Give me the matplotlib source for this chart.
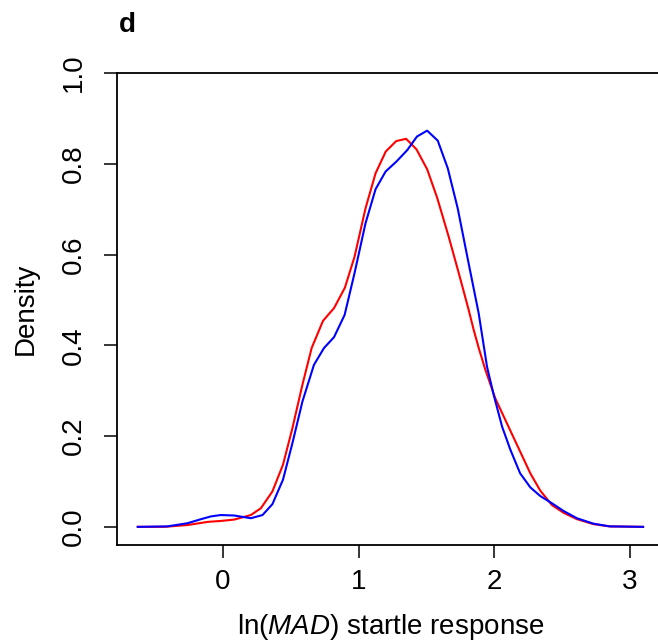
import matplotlib
matplotlib.use('Agg')
import matplotlib.pyplot as plt

plt.rcParams['font.family'] = ['Liberation Sans', 'DejaVu Sans']
plt.rcParams['mathtext.fontset'] = 'custom'
plt.rcParams['mathtext.rm'] = 'Liberation Sans'
plt.rcParams['mathtext.it'] = 'Liberation Sans:italic'

# density curves
red_x = [-0.627, -0.43, -0.26, -0.11, -0.015, 0.083, 0.206, 0.28, 0.365, 0.443,
         0.512, 0.586, 0.654, 0.738, 0.819, 0.899, 0.97, 1.051, 1.125, 1.20,
         1.277, 1.35, 1.426, 1.505, 1.58, 1.664, 1.738, 1.811, 1.848, 1.885,
         1.934, 2.007, 2.093, 2.179, 2.265, 2.338, 2.424, 2.51, 2.608, 2.73,
         2.85, 3.096]
red_y = [0.0, 0.0, 0.004, 0.011, 0.013, 0.016, 0.026, 0.041, 0.078, 0.137,
         0.217, 0.313, 0.394, 0.454, 0.482, 0.527, 0.595, 0.702, 0.779, 0.827,
         0.850, 0.855, 0.832, 0.788, 0.724, 0.639, 0.559, 0.478, 0.434, 0.394,
         0.346, 0.283, 0.228, 0.173, 0.118, 0.080, 0.048, 0.031, 0.017, 0.006,
         0.001, 0.0]

blue_x = [-0.627, -0.41, -0.26, -0.16, -0.088, -0.015, 0.083, 0.206, 0.292, 0.365,
          0.443, 0.512, 0.586, 0.671, 0.745, 0.819, 0.897, 0.97, 1.051, 1.125,
          1.199, 1.279, 1.358, 1.43, 1.505, 1.583, 1.657, 1.73, 1.811, 1.885,
          1.946, 1.995, 2.057, 2.118, 2.19, 2.265, 2.338, 2.424, 2.51, 2.608,
          2.73, 2.85, 3.096]
blue_y = [0.0, 0.001, 0.008, 0.017, 0.023, 0.026, 0.025, 0.019, 0.026, 0.05,
          0.104, 0.184, 0.276, 0.357, 0.394, 0.418, 0.467, 0.559, 0.669, 0.744,
          0.783, 0.805, 0.830, 0.86, 0.873, 0.851, 0.79, 0.702, 0.58, 0.47,
          0.353, 0.291, 0.221, 0.17, 0.118, 0.087, 0.068, 0.052, 0.035, 0.019,
          0.007, 0.001, 0.0]

x_ticks = [0, 1, 2, 3]
y_ticks = [0.0, 0.2, 0.4, 0.6, 0.8, 1.0]

fig = plt.figure(figsize=(6.58, 6.41), dpi=100)
ax = fig.add_axes([117 / 658, 1 - 545 / 641, (664 - 117) / 658, (545 - 73) / 641])

ax.plot(red_x, red_y, color='red', lw=1.5)
ax.plot(blue_x, blue_y, color='blue', lw=1.5)

ax.set_xlim(-0.78, 3.25)
ax.set_ylim(-0.04, 1.0)
ax.set_xticks(x_ticks)
ax.set_xticklabels([str(t) for t in x_ticks])
ax.set_yticks(y_ticks)
ax.set_yticklabels(['%.1f' % t for t in y_ticks], rotation=90, va='center')

for s in ax.spines.values():
    s.set_linewidth(1.3)
ax.tick_params(axis='both', length=9.5, width=1.1, labelsize=20, color='black')
ax.tick_params(axis='x', pad=8)
ax.tick_params(axis='y', pad=12)

ax.set_xlabel('ln($\\mathit{MAD}$) startle response', fontsize=20, labelpad=12)
ax.set_ylabel('Density', fontsize=20, labelpad=16)

fig.text(127 / 658, 1 - 25 / 641, 'd', fontsize=20, fontweight='bold',
         ha='center', va='center')

fig.savefig('out.png', dpi=100)
